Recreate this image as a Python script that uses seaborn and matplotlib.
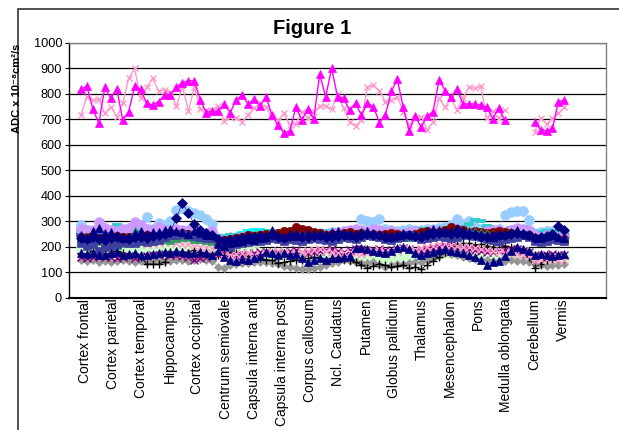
import numpy as np
import pandas as pd
import matplotlib
matplotlib.use("Agg")
import matplotlib.pyplot as plt
from matplotlib.patches import Rectangle
import seaborn as sns

nan = np.nan

regions = ["Cortex frontal", "Cortex parietal", "Cortex temporal", "Hippocampus",
           "Cortex occipital", "Centrum semiovale", "Capsula interna ant",
           "Capsula interna post", "Corpus callosum", "Ncl. Caudatus", "Putamen",
           "Globus pallidum", "Thalamus", "Mesencephalon", "Pons",
           "Medulla oblongata", "Cerebellum", "Vermis"]

# upper group
magenta_tri = [818, 830, 740, 684, 825, 782, 820, 697, 730, 830,
               817, 762, 757, 769, 795, 795, 825, 843, 851, 851,
               775, 726, 733, 731, 760, 726, 775, 795, 760, 778,
               752, 788, 717, 676, 647, 654, 747, 697, 739, 702,
               877, 788, 900, 788, 782, 736, 762, 717, 762, 750,
               687, 717, 809, 857, 747, 654, 713, 668, 713, 730,
               854, 812, 786, 817, 760, 760, 760, 755, 747, 703,
               743, 697, nan, nan, nan, nan, 690, 660, 655, 664,
               769, 775]
pink_x_high = [717, 788, 775, 778, 723, 749, 710, 762, 860, 900,
               782, 825, 860, 812, 815, 808, 752, 830, 733, 825,
               739, 736, 736, 752, 695, 710, 704, 690, 717, 743,
               762, 749, 710, 695, 723, 678, 681, 730, 704, 730,
               752, 752, 739, 801, 743, 690, 673, 697, 825, 834,
               812, 769, 775, 788, 730, 678, 707, 710, 660, 690,
               782, 747, 782, 736, 782, 825, 821, 830, 704, 733,
               704, 736, nan, nan, nan, nan, 651, 704, 681, 704,
               723, 747]

# lower group
lightblue_circ = [286, 268, 262, 266, 270, 262, 268, 265, 270, 272,
                  280, 318, 272, 295, 285, 300, 344, 351, 342, 334,
                  325, 308, 290, 236, 232, 238, 240, 235, 245, 250,
                  248, 252, 255, 250, 248, 255, 252, 258, 255, 250,
                  255, 252, 258, 255, 250, 262, 268, 308, 303, 299,
                  308, 270, 265, 262, 268, 270, 265, 268, 272, 270,
                  275, 280, 285, 308, 290, 300, 278, 270, 268, 265,
                  270, 327, 335, 340, 342, 305, 253, 257, 262, 263,
                  255, 248]
purple_circ = [270, 265, 268, 299, 273, 268, 262, 270, 275, 296,
               285, 270, 268, 279, 266, 262, 270, 265, 268, 262,
               260, 255, 262, 230, 225, 228, 232, 240, 236, 238,
               242, 235, 245, 240, 248, 245, 242, 250, 246, 248,
               252, 248, 255, 258, 262, 266, 270, 268, 262, 270,
               265, 258, 262, 255, 250, 258, 262, 255, 260, 265,
               262, 258, 265, 270, 262, 258, 260, 255, 262, 268,
               265, 260, 268, 275, 270, 265, 245, 240, 248, 242,
               238, 240]
darkred_circ = [240, 238, 242, 236, 240, 238, 244, 240, 238, 242,
                240, 245, 242, 238, 244, 250, 252, 255, 250, 248,
                245, 240, 238, 225, 228, 232, 235, 238, 247, 242,
                245, 250, 248, 255, 262, 262, 279, 270, 266, 260,
                253, 247, 252, 248, 255, 258, 250, 256, 245, 250,
                248, 252, 255, 250, 248, 245, 252, 258, 262, 255,
                260, 268, 279, 272, 265, 260, 262, 258, 255, 260,
                262, 258, 255, 250, 248, 245, 235, 232, 238, 235,
                232, 230]
teal_dash = [268, 262, 265, 270, 272, 268, 285, 280, 275, 270,
             268, 265, 270, 275, 268, 265, 262, 268, 270, 265,
             262, 258, 255, 240, 242, 247, 245, 250, 252, 255,
             258, 262, 259, 255, 260, 265, 262, 258, 254, 258,
             255, 262, 259, 265, 268, 262, 260, 265, 268, 262,
             258, 262, 265, 260, 258, 262, 265, 270, 268, 272,
             275, 270, 268, 272, 280, 290, 305, 300, 283, 275,
             270, 268, 275, 280, 278, 272, 255, 258, 262, 260,
             258, 255]
blue_dash = [245, 240, 250, 255, 248, 242, 250, 246, 252, 248,
             245, 250, 255, 258, 262, 258, 255, 250, 252, 248,
             245, 242, 240, 222, 225, 228, 232, 235, 238, 240,
             245, 242, 248, 250, 245, 248, 252, 250, 246, 250,
             248, 252, 255, 250, 248, 252, 255, 258, 252, 250,
             248, 245, 250, 252, 255, 258, 252, 250, 255, 258,
             262, 258, 255, 260, 265, 268, 262, 258, 260, 255,
             252, 258, 262, 265, 260, 258, 245, 240, 248, 250,
             245, 248]
cyan_dash = [250, 248, 252, 245, 248, 250, 255, 252, 248, 245,
             248, 252, 255, 250, 248, 252, 255, 258, 252, 250,
             248, 245, 242, 235, 238, 240, 248, 255, 262, 266,
             268, 262, 255, 250, 248, 252, 255, 250, 245, 248,
             252, 255, 250, 248, 252, 255, 258, 255, 250, 248,
             252, 255, 258, 255, 250, 248, 252, 255, 258, 262,
             258, 255, 252, 255, 258, 262, 265, 260, 255, 252,
             250, 255, 258, 262, 258, 255, 245, 242, 248, 250,
             248, 245]
slate_sq = [215, 205, 210, 185, 200, 205, 212, 220, 215, 216,
            222, 220, 225, 228, 240, 245, 247, 250, 245, 242,
            238, 234, 236, 215, 205, 200, 210, 215, 218, 225,
            222, 228, 235, 230, 225, 232, 228, 225, 230, 235,
            232, 228, 225, 230, 238, 235, 230, 240, 245, 242,
            238, 232, 228, 235, 240, 245, 238, 232, 235, 240,
            242, 238, 235, 240, 245, 250, 242, 238, 232, 228,
            225, 230, 235, 240, 245, 238, 222, 218, 225, 230,
            228, 225]
navy_tri_high = [245, 235, 262, 273, 255, 257, 248, 234, 240, 255,
                 262, 250, 258, 257, 265, 270, 262, 258, 250, 262,
                 255, 248, 245, 212, 205, 215, 220, 225, 230, 228,
                 235, 240, 266, 245, 238, 250, 242, 248, 255, 250,
                 245, 250, 258, 262, 255, 248, 252, 258, 262, 255,
                 250, 245, 240, 248, 255, 252, 245, 250, 262, 270,
                 265, 258, 262, 275, 268, 260, 255, 250, 245, 240,
                 248, 252, 260, 265, 255, 248, 238, 235, 242, 248,
                 240, 236]
navy_tri_low = [175, 172, 175, 170, 168, 175, 180, 168, 172, 178,
                170, 168, 172, 175, 180, 178, 185, 182, 178, 175,
                180, 176, 170, 185, 162, 150, 146, 152, 149, 155,
                165, 181, 178, 170, 175, 168, 172, 155, 142, 150,
                158, 149, 155, 158, 162, 165, 195, 195, 190, 185,
                180, 178, 185, 195, 201, 192, 175, 170, 178, 182,
                188, 190, 185, 180, 175, 170, 160, 150, 129, 142,
                146, 165, 184, 201, 192, 185, 168, 172, 170, 165,
                168, 172]
navy_dia = [235, 230, 238, 232, 228, 235, 240, 236, 232, 238,
            240, 236, 242, 245, 250, 260, 314, 371, 331, 290,
            265, 255, 248, 230, 225, 228, 232, 235, 238, 240,
            242, 238, 245, 240, 236, 242, 245, 240, 238, 242,
            245, 240, 238, 242, 248, 245, 240, 245, 250, 248,
            245, 240, 238, 242, 245, 248, 242, 240, 245, 250,
            255, 258, 252, 255, 250, 248, 245, 240, 238, 242,
            245, 248, 252, 255, 250, 245, 235, 238, 242, 250,
            283, 266]
gray_dia = [149, 145, 148, 142, 146, 140, 143, 148, 145, 142,
            146, 140, 144, 147, 143, 145, 148, 150, 146, 148,
            152, 150, 146, 120, 116, 129, 134, 138, 136, 140,
            142, 140, 138, 132, 125, 123, 119, 112, 112, 118,
            122, 128, 136, 140, 149, 146, 142, 136, 138, 142,
            130, 122, 128, 132, 135, 138, 142, 140, 148, 155,
            165, 175, 171, 168, 160, 155, 152, 148, 150, 146,
            146, 145, 148, 146, 146, 140, 136, 130, 126, 128,
            129, 132]
black_plus = [175, 170, 185, 180, 172, 178, 185, 175, 170, 168,
              160, 133, 133, 133, 140, 181, 175, 182, 178, 188,
              180, 175, 170, 168, 175, 181, 178, 170, 165, 160,
              155, 150, 148, 136, 140, 145, 150, 148, 155, 160,
              158, 150, 155, 160, 152, 148, 140, 130, 116, 125,
              135, 128, 120, 125, 130, 116, 122, 112, 130, 145,
              160, 180, 205, 211, 214, 214, 208, 211, 205, 200,
              211, 205, 198, 190, 175, 160, 116, 135, 150, 155,
              160, 158]
pink_x_low = [230, 228, 225, 232, 228, 220, 225, 230, 222, 218,
              215, 212, 210, 215, 218, 222, 215, 210, 212, 205,
              200, 198, 195, 175, 170, 168, 172, 178, 175, 170,
              172, 178, 182, 185, 180, 175, 178, 182, 185, 188,
              190, 185, 180, 175, 178, 182, 175, 172, 178, 185,
              188, 182, 178, 185, 190, 192, 188, 195, 200, 205,
              210, 212, 208, 205, 200, 198, 195, 190, 188, 185,
              182, 178, 175, 172, 168, 165, 150, 148, 152, 155,
              150, 148]
green_sq = [195, 190, 188, 192, 185, 190, 195, 188, 182, 185,
            190, 195, 198, 200, 205, 208, 210, 205, 200, 198,
            200, 205, 198, 190, 192, 195, 188, 185, 180, 182,
            178, 175, 172, 170, 175, 172, 168, 165, 160, 158,
            162, 165, 160, 158, 162, 165, 170, 168, 162, 160,
            158, 160, 162, 165, 170, 168, 172, 175, 170, 172,
            178, 180, 182, 185, 180, 178, 175, 172, 170, 168,
            170, 172, 175, 178, 180, 175, 165, 160, 158, 162,
            160, 158]
purple_x = [160, 158, 162, 165, 162, 160, 158, 162, 165, 158,
            160, 165, 168, 170, 172, 168, 170, 165, 160, 150,
            155, 160, 165, 170, 175, 172, 168, 170, 175, 178,
            180, 182, 178, 175, 180, 185, 188, 182, 178, 180,
            185, 188, 190, 185, 182, 188, 192, 190, 185, 188,
            192, 188, 185, 190, 195, 192, 188, 185, 190, 195,
            200, 205, 202, 198, 195, 192, 188, 185, 182, 180,
            185, 188, 192, 190, 185, 180, 170, 165, 168, 172,
            170, 168]
green_tri = [235, 240, 230, 225, 228, 238, 207, 215, 228, 262,
             240, 235, 238, 232, 230, 228, 235, 240, 238, 232,
             230, 228, 225, 215, 210, 218, 222, 225, 228, 232,
             235, 238, 240, 236, 234, 240, 234, 238, 242, 240,
             238, 242, 245, 240, 238, 242, 248, 252, 248, 245,
             240, 238, 242, 245, 240, 238, 242, 248, 252, 255,
             258, 262, 258, 255, 260, 265, 262, 258, 255, 250,
             248, 252, 255, 258, 252, 248, 232, 228, 235, 240,
             238, 235]

# (values, colour, marker, markersize, edge width, line width)
series = [
    (lightblue_circ, "#99CCFF", "o", 7.0, 0.5, 0.4),
    (green_sq, "#CCFFCC", "s", 6.5, 0.5, 0.4),
    (gray_dia, "#969696", "D", 4.5, 0.5, 0.5),
    (black_plus, "#000000", "+", 6.0, 1.0, 0.6),
    (purple_x, "#800080", "x", 5.5, 1.0, 0.4),
    (pink_x_low, "#FF99CC", "x", 5.5, 1.0, 0.4),
    (cyan_dash, "#00FFFF", "_", 7.5, 2.8, 0.3),
    (teal_dash, "#33CCCC", "_", 7.5, 2.8, 0.3),
    (blue_dash, "#3366FF", "_", 6.5, 2.8, 0.3),
    (purple_circ, "#CC99FF", "o", 7.0, 0.5, 0.4),
    (darkred_circ, "#800000", "o", 6.0, 0.5, 0.4),
    (green_tri, "#339966", "^", 5.5, 0.5, 0.4),
    (slate_sq, "#4040A0", "s", 5.5, 0.5, 0.4),
    (navy_dia, "#000080", "D", 5.0, 0.5, 0.4),
    (navy_tri_low, "#000080", "^", 6.0, 0.5, 0.4),
    (navy_tri_high, "#000080", "^", 6.0, 0.5, 0.4),
    (pink_x_high, "#FF99CC", "x", 5.0, 1.0, 1.0),
    (magenta_tri, "#FF00FF", "^", 5.5, 0.5, 1.0),
]

sns.set_theme(style="white")
plt.rcParams["font.family"] = ["Liberation Sans", "DejaVu Sans"]
plt.rcParams["text.color"] = "black"
plt.rcParams["xtick.color"] = "black"
plt.rcParams["ytick.color"] = "black"
plt.rcParams["axes.labelcolor"] = "black"

fig = plt.figure(figsize=(6.19, 4.30), dpi=100)
ax = fig.add_axes([69 / 619, 1 - 298 / 430, 536.6 / 619, 255.3 / 430])

for vals, col, mk, ms, mew, lw in series:
    df = pd.DataFrame({"idx": np.arange(len(vals)), "adc": vals})
    df["seg"] = df["adc"].isna().cumsum()
    df = df.dropna()
    for _, part in df.groupby("seg"):
        sns.lineplot(data=part, x="idx", y="adc", ax=ax, color=col, marker=mk,
                     markersize=ms, markeredgecolor=col, markerfacecolor=col,
                     markeredgewidth=mew, linewidth=lw, estimator=None,
                     sort=False, legend=False)

ax.set_xlim(-2.0, 87.9)
ax.set_ylim(0, 1000)
ax.set_yticks(np.arange(0, 1001, 100))
ax.yaxis.grid(True, color="black", linewidth=0.9)
ax.set_axisbelow(True)

ax.set_xticks(np.linspace(0.7, 80.7, len(regions)))
ax.set_xticklabels(regions, rotation=90, fontsize=10, va="top", ha="center",
                   color="black")
ax.tick_params(axis="x", length=0, pad=0.5)
ax.tick_params(axis="y", length=3, width=0.8, color="black", pad=2, labelsize=9.2,
               left=True, direction="out", labelcolor="black")
ax.set_xlabel("")
ax.set_ylabel("")

for side in ["top", "right"]:
    ax.spines[side].set_color("#808080")
    ax.spines[side].set_linewidth(1.0)
ax.spines["left"].set_color("black")
ax.spines["left"].set_linewidth(1.0)
ax.spines["bottom"].set_color("black")
ax.spines["bottom"].set_linewidth(1.5)

fig.text(312 / 619, 1 - 28 / 430, "Figure 1", ha="center", va="center",
         fontsize=14.5, fontweight="bold", color="black")
fig.text(17 / 619, 1 - 88 / 430, "ADC x 10⁻⁸cm²/s", rotation=90, ha="center",
         va="center", fontsize=8, fontweight="bold", color="black")

# chart area frame
fig.add_artist(Rectangle((18 / 619, -0.2), 1.2, 1.2 - 9 / 430,
                         transform=fig.transFigure, fill=False,
                         edgecolor="#333333", linewidth=1.2, clip_on=False))

fig.savefig("out.png", dpi=100)
plt.close(fig)
